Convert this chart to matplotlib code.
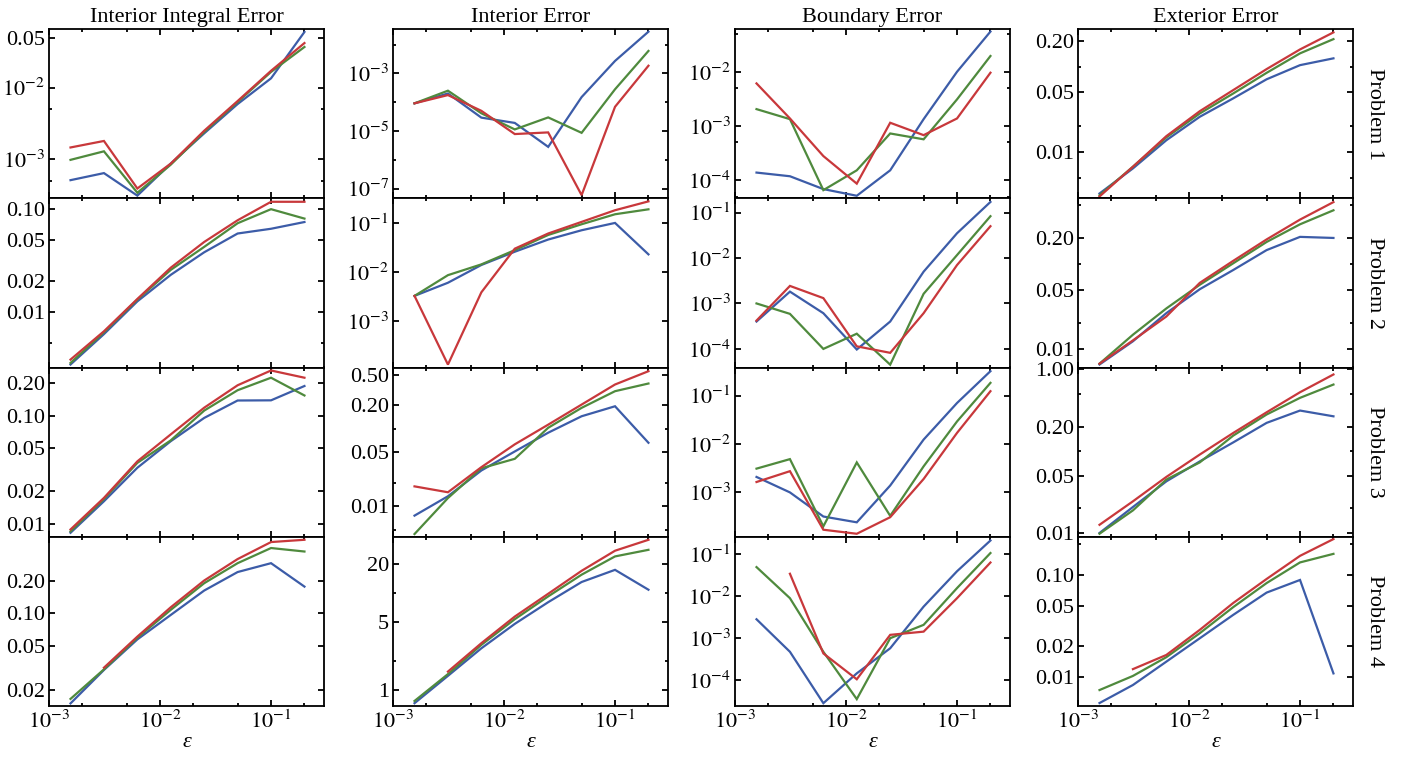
import numpy as np
import matplotlib
matplotlib.use('Agg')
import matplotlib.pyplot as plt

nan = np.nan

# epsilon values (x axis)
eps = [0.0015625, 0.003125, 0.00625, 0.0125, 0.025, 0.05, 0.1, 0.2]

col_titles = ['Interior Integral Error', 'Interior Error', 'Boundary Error', 'Exterior Error']
row_labels = ['Problem 1', 'Problem 2', 'Problem 3', 'Problem 4']
series_colors = ['#3c5ca8', '#4f8a3d', '#c8383b']  # blue, green, red

# each panel holds [blue, green, red]
integral_p1 = [[5.1e-4, 6.4e-4, 3.1e-4, 8.7e-4, 2.3e-3, 5.9e-3, 1.35e-2, 6.0e-2],
               [9.8e-4, 1.29e-3, 3.4e-4, 8.4e-4, 2.4e-3, 6.3e-3, 1.66e-2, 3.7e-2],
               [1.46e-3, 1.80e-3, 3.9e-4, 8.7e-4, 2.5e-3, 6.5e-3, 1.72e-2, 4.2e-2]]
integral_p2 = [[3.09e-3, 6.1e-3, 1.27e-2, 2.30e-2, 3.81e-2, 5.8e-2, 6.45e-2, 7.5e-2],
               [3.2e-3, 6.35e-3, 1.32e-2, 2.57e-2, 4.3e-2, 7.3e-2, 0.100, 8.1e-2],
               [3.45e-3, 6.5e-3, 1.34e-2, 2.7e-2, 4.8e-2, 7.8e-2, 0.118, 0.118]]
integral_p3 = [[8.3e-3, 1.62e-2, 3.3e-2, 5.8e-2, 9.5e-2, 0.1375, 0.138, 0.187],
               [8.55e-3, 1.70e-2, 3.66e-2, 5.9e-2, 0.111, 0.171, 0.223, 0.153],
               [8.9e-3, 1.74e-2, 3.78e-2, 6.7e-2, 0.118, 0.19, 0.26, 0.223]]
integral_p4 = [[0.0151, 0.0305, 0.058, 0.097, 0.162, 0.239, 0.288, 0.176],
               [0.0166, 0.0309, 0.060, 0.108, 0.189, 0.288, 0.396, 0.368],
               [nan, 0.032, 0.0615, 0.114, 0.2, 0.314, 0.449, 0.471]]

interior_p1 = [[9.1e-5, 2.0e-4, 2.9e-5, 1.9e-5, 2.8e-6, 1.5e-4, 2.7e-3, 2.8e-2],
               [9.1e-5, 2.5e-4, 4.1e-5, 1.13e-5, 2.95e-5, 8.6e-6, 2.8e-4, 6.0e-3],
               [9.1e-5, 1.76e-4, 5.0e-5, 7.8e-6, 8.9e-6, 5.9e-8, 6.9e-5, 1.84e-3]]
interior_p2 = [[3.3e-3, 6.1e-3, 1.4e-2, 2.6e-2, 4.6e-2, 7.1e-2, 0.100, 2.3e-2],
               [3.3e-3, 8.7e-3, 1.44e-2, 2.8e-2, 5.7e-2, 9.4e-2, 0.150, 0.189],
               [3.3e-3, 1.33e-4, 3.9e-3, 3.0e-2, 6.1e-2, 0.105, 0.181, 0.274]]
interior_p3 = [[7.6e-3, 1.35e-2, 2.9e-2, 5.1e-2, 8.9e-2, 0.145, 0.195, 6.6e-2],
               [4.4e-3, 1.28e-2, 3.1e-2, 4.1e-2, 0.103, 0.186, 0.305, 0.383],
               [1.81e-2, 1.52e-2, 3.2e-2, 6.3e-2, 0.113, 0.205, 0.372, 0.552]]
interior_p4 = [[0.73, 1.40, 2.70, 4.83, 8.1, 13.1, 17.5, 10.9],
               [0.77, 1.46, 2.93, 5.4, 9.3, 15.6, 24.1, 28.2],
               [nan, 1.55, 3.05, 5.75, 9.9, 17.1, 27.6, 35.8]]

boundary_p1 = [[1.39e-4, 1.19e-4, 6.9e-5, 5.2e-5, 1.53e-4, 1.34e-3, 1.0e-2, 5.5e-2],
               [2.05e-3, 1.34e-3, 6.6e-5, 1.53e-4, 7.3e-4, 5.7e-4, 3.1e-3, 1.95e-2],
               [6.1e-3, 1.38e-3, 2.8e-4, 8.7e-5, 1.15e-3, 6.8e-4, 1.38e-3, 9.6e-3]]
boundary_p2 = [[4.0e-4, 1.82e-3, 6.1e-4, 9.7e-5, 4.0e-4, 5.0e-3, 3.5e-2, 0.171],
               [1.0e-3, 5.9e-4, 1.0e-4, 2.16e-4, 4.5e-5, 1.63e-3, 1.16e-2, 8.3e-2],
               [4.2e-4, 2.43e-3, 1.31e-3, 1.14e-4, 8.2e-5, 6.1e-4, 7.0e-3, 5.0e-2]]
boundary_p3 = [[2.05e-3, 9.8e-4, 3.1e-4, 2.35e-4, 1.36e-3, 1.22e-2, 7.0e-2, 0.32],
               [3.05e-3, 4.8e-3, 1.94e-4, 4.1e-3, 3.2e-4, 3.4e-3, 2.9e-2, 0.183],
               [1.61e-3, 2.7e-3, 1.65e-4, 1.36e-4, 3.0e-4, 1.86e-3, 1.68e-2, 0.123]]
boundary_p4 = [[2.8e-3, 4.7e-4, 2.8e-5, 1.44e-4, 5.7e-4, 5.6e-3, 3.9e-2, 0.211],
               [4.9e-2, 8.9e-3, 4.7e-4, 3.5e-5, 9.9e-4, 2.06e-3, 1.55e-2, 0.106],
               [nan, 3.4e-2, 4.3e-4, 1.04e-4, 1.19e-3, 1.42e-3, 8.9e-3, 6.3e-2]]

exterior_p1 = [[3.25e-3, 6.4e-3, 1.37e-2, 2.58e-2, 4.24e-2, 7.1e-2, 0.104, 0.125],
               [3.1e-3, 6.7e-3, 1.48e-2, 2.82e-2, 4.84e-2, 8.45e-2, 0.143, 0.21],
               [3.0e-3, 6.7e-3, 1.53e-2, 3.0e-2, 5.3e-2, 9.35e-2, 0.159, 0.252]]
exterior_p2 = [[6.55e-3, 1.23e-2, 2.64e-2, 5.05e-2, 8.5e-2, 0.146, 0.209, 0.203],
               [6.7e-3, 1.47e-2, 3.0e-2, 5.7e-2, 0.102, 0.182, 0.294, 0.43],
               [6.7e-3, 1.26e-2, 2.41e-2, 6.0e-2, 0.109, 0.195, 0.334, 0.537]]
exterior_p3 = [[1.0e-2, 2.08e-2, 4.28e-2, 7.5e-2, 0.128, 0.222, 0.314, 0.267],
               [9.8e-3, 1.89e-2, 4.5e-2, 7.3e-2, 0.155, 0.281, 0.449, 0.653],
               [1.26e-2, 2.44e-2, 4.85e-2, 9.1e-2, 0.167, 0.299, 0.526, 0.867]]
exterior_p4 = [[5.6e-3, 8.4e-3, 1.42e-2, 2.4e-2, 4.06e-2, 6.7e-2, 8.9e-2, 1.09e-2],
               [7.5e-3, 1.03e-2, 1.57e-2, 2.69e-2, 4.83e-2, 8.3e-2, 0.132, 0.16],
               [nan, 1.2e-2, 1.65e-2, 2.9e-2, 5.3e-2, 9.1e-2, 0.153, 0.223]]

panels = [[integral_p1, interior_p1, boundary_p1, exterior_p1],
          [integral_p2, interior_p2, boundary_p2, exterior_p2],
          [integral_p3, interior_p3, boundary_p3, exterior_p3],
          [integral_p4, interior_p4, boundary_p4, exterior_p4]]

# y ranges per panel
ylims = [[(2.85e-4, 0.066), (4.6e-8, 0.0347), (4.68e-5, 0.0613), (2.86e-3, 0.276)],
         [(2.89e-3, 0.1277), (1.16e-4, 0.317), (3.9e-5, 0.206), (6.04e-3, 0.596)],
         [(7.63e-3, 0.277), (4.06e-3, 0.616), (1.18e-4, 0.381), (9.0e-3, 1.055)],
         [(0.0143, 0.502), (0.683, 38.5), (2.4e-5, 0.259), (5.24e-3, 0.235)]]

# labelled y ticks and their labels, plus unlabelled minor ticks
ytick_major = [[[0.05, 1e-2, 1e-3], [1e-3, 1e-5, 1e-7], [1e-2, 1e-3, 1e-4], [0.2, 0.05, 0.01]],
               [[0.1, 0.05, 0.02, 0.01], [1e-1, 1e-2, 1e-3], [1e-1, 1e-2, 1e-3, 1e-4], [0.2, 0.05, 0.01]],
               [[0.2, 0.1, 0.05, 0.02, 0.01], [0.5, 0.2, 0.05, 0.01], [1e-1, 1e-2, 1e-3], [1.0, 0.2, 0.05, 0.01]],
               [[0.2, 0.1, 0.05, 0.02], [20, 5, 1], [1e-1, 1e-2, 1e-3, 1e-4], [0.1, 0.05, 0.02, 0.01]]]
ytick_labels = [[['0.05', '$10^{-2}$', '$10^{-3}$'], ['$10^{-3}$', '$10^{-5}$', '$10^{-7}$'],
                 ['$10^{-2}$', '$10^{-3}$', '$10^{-4}$'], ['0.20', '0.05', '0.01']],
                [['0.10', '0.05', '0.02', '0.01'], ['$10^{-1}$', '$10^{-2}$', '$10^{-3}$'],
                 ['$10^{-1}$', '$10^{-2}$', '$10^{-3}$', '$10^{-4}$'], ['0.20', '0.05', '0.01']],
                [['0.20', '0.10', '0.05', '0.02', '0.01'], ['0.50', '0.20', '0.05', '0.01'],
                 ['$10^{-1}$', '$10^{-2}$', '$10^{-3}$'], ['1.00', '0.20', '0.05', '0.01']],
                [['0.20', '0.10', '0.05', '0.02'], ['20', '5', '1'],
                 ['$10^{-1}$', '$10^{-2}$', '$10^{-3}$', '$10^{-4}$'], ['0.10', '0.05', '0.02', '0.01']]]
ytick_minor = [[[5e-3, 5e-4], [1e-2, 1e-4, 1e-6], [5e-2, 5e-3, 5e-4, 5e-5], [0.1, 0.02, 0.005]],
               [[0.005], [], [], [0.5, 0.1, 0.02]],
               [[], [0.1, 0.02, 0.005], [], [0.5, 0.1, 0.02]],
               [[], [10, 2], [], [0.2]]]

xticks_major = [1e-3, 1e-2, 1e-1]
xtick_labels = ['$10^{-3}$', '$10^{-2}$', '$10^{-1}$']
xticks_minor = [2e-3, 5e-3, 2e-2, 5e-2, 2e-1]

plt.rcParams['font.family'] = ['Liberation Serif', 'DejaVu Serif']
plt.rcParams['mathtext.fontset'] = 'stix'
fs = 16

W, H = 1406, 761
fig = plt.figure(figsize=(W / 100, H / 100), dpi=100)

col_left = [49, 393, 735, 1078]
ax_w = 275
row_top = 29
ax_h = (706 - 29) / 4

for r in range(4):
    for c in range(4):
        top = row_top + r * ax_h
        ax = fig.add_axes([col_left[c] / W, 1 - (top + ax_h) / H, ax_w / W, ax_h / H])
        for k, ys in enumerate(panels[r][c]):
            ax.plot(eps, ys, color=series_colors[k], lw=1.6, solid_joinstyle='miter')
        ax.set_xscale('log')
        ax.set_yscale('log')
        ax.set_xlim(1e-3, 0.3)
        ax.set_ylim(*ylims[r][c])

        ax.set_xticks(xticks_major)
        ax.set_xticks(xticks_minor, minor=True)
        if r == 3:
            ax.set_xticklabels(xtick_labels)
            ax.set_xlabel('ε', fontsize=fs, style='italic', labelpad=0)
        else:
            ax.set_xticklabels([])
        ax.set_xticklabels([], minor=True)

        ax.set_yticks(ytick_major[r][c])
        ax.set_yticklabels(ytick_labels[r][c])
        ax.set_yticks(ytick_minor[r][c], minor=True)
        ax.set_yticklabels([], minor=True)

        ax.tick_params(which='both', direction='in', top=True, right=True,
                       labelsize=fs, width=1.3, pad=3)
        ax.tick_params(which='major', length=4)
        ax.tick_params(which='minor', length=2.5)
        for s in ax.spines.values():
            s.set_linewidth(1.3)

        if r == 0:
            ax.set_title(col_titles[c], fontsize=fs, pad=5)
        if c == 3:
            fig.text(1375 / W, 1 - (top + ax_h / 2) / H, row_labels[r],
                     rotation=-90, ha='center', va='center', fontsize=fs)

fig.savefig('out.png', dpi=100)
